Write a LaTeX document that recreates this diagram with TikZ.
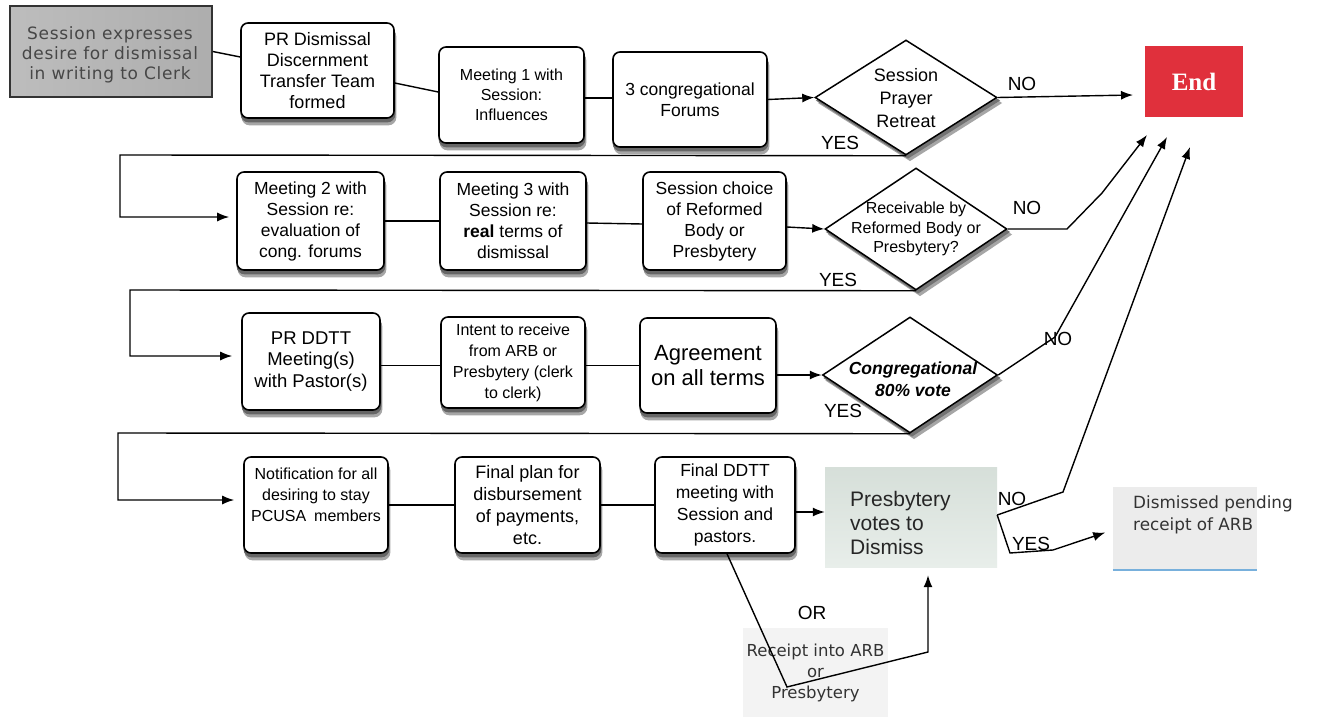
\documentclass[tikz,border=0pt]{standalone}
\usepackage{fontspec}
\setmainfont{Liberation Sans}
\newfontfamily\dvs{DejaVu Sans}
\newfontfamily\dvsw[LetterSpace=4]{DejaVu Sans}
\newfontfamily\endfont{Liberation Serif}
\usetikzlibrary{shapes.geometric,arrows.meta,calc}
\definecolor{endred}{HTML}{E0303C}
\definecolor{presfillA}{RGB}{214,223,217}
\definecolor{presfillB}{RGB}{232,238,234}
\definecolor{dismfill}{RGB}{236,236,236}
\definecolor{blueline}{RGB}{120,176,220}
\definecolor{recfill}{RGB}{243,243,243}
\newcommand\fsz[2]{\fontsize{#1}{#2}\selectfont}
\tikzset{
  box/.style={draw=black, line width=1.6pt, rounded corners=7pt, fill=white, align=center, inner sep=2pt},
  shbox/.style={draw=black!35, fill=black!35, line width=1.6pt, rounded corners=7pt, inner sep=0pt},
  shboxn/.style={draw=black!60, fill=black!60, line width=1.6pt, rounded corners=7pt, inner sep=0pt},
  dia/.style={diamond, draw=black, line width=1.5pt, fill=white, inner sep=0pt},
  shdia/.style={diamond, draw=black!35, fill=black!35, line width=1.5pt, inner sep=0pt},
  shdian/.style={diamond, draw=black!55, fill=black!55, line width=1.5pt, inner sep=0pt},
  conn/.style={line width=1.4pt, black},
  arr/.style={conn, -{Latex[length=12pt,width=9pt]}},
  lbl/.style={font=\fsz{19}{22}, inner sep=0pt},
  diatext/.style={align=center, inner sep=0pt},
}
% name, x, y, width, height, font, text
\newcommand\bx[7]{%
  \node[shbox, minimum width=#4, minimum height=#5] (#1sh) at (#2+1.5,#3+6.5) {};
  \node[shboxn, minimum width=#4, minimum height=#5] (#1shn) at (#2+0.5,#3+3.5) {};
  \node[box, minimum width=#4, minimum height=#5, font=#6] (#1) at (#2,#3) {#7};}
% name, x, y, width, height
\newcommand\dm[5]{%
  \node[shdia, minimum width=#4, minimum height=#5] (#1sh) at (#2+4,#3+5.5) {};
  \node[shdian, minimum width=#4, minimum height=#5] (#1shn) at (#2+2,#3+3) {};
  \node[dia, minimum width=#4, minimum height=#5] (#1) at (#2,#3) {};}
\begin{document}
\begin{tikzpicture}[x=1pt,y=-1pt]
\useasboundingbox (0,0) rectangle (1320,717);
\fill[white] (0,0) rectangle (1320,717);

% ---------- Row 1 ----------
\node[draw=black!80, line width=1.5pt, left color=black!26, middle color=black!5, right color=black!32,
  minimum width=202, minimum height=91, inner sep=0pt] (A) at (111,51.5) {};
\node[align=center, inner sep=0pt, font=\dvsw\fsz{17}{20}, text=black!72] (At) at (110,55)
  {Session expresses\\desire for dismissal\\in writing to Clerk};
\bx{B}{317.5}{70.5}{153}{95}{\fsz{18}{21}}{PR Dismissal\\Discernment\\Transfer Team\\formed}
\bx{C}{511.5}{95}{145}{96}{\fsz{16}{20}}{Meeting 1 with\\Session:\\Influences}
\bx{D}{690}{99.5}{154}{95}{\fsz{17.5}{21}}{3 congregational\\Forums}
\dm{d1}{906}{97.5}{182}{115}
\node[diatext, font=\fsz{18}{23}] (d1t) at (906,98) {Session\\Prayer\\Retreat};
\node[fill=endred, minimum width=98, minimum height=71, text=white, inner sep=0pt,
  font=\endfont\bfseries\fsz{25}{28}] (End) at (1194,81.5) {End};

% ---------- Row 2 ----------
\bx{E}{310.5}{221}{147}{98}{\fsz{17.5}{21}}{Meeting 2 with\\Session re:\\evaluation of\\cong. forums}
\bx{F}{513}{221}{146}{98}{\fsz{17.5}{21}}{Meeting 3 with\\Session re:\\\textbf{real} terms of\\dismissal}
\bx{G}{714.5}{221}{143}{98}{\fsz{17.5}{21}}{Session choice\\of Reformed\\Body or\\Presbytery}
\dm{d2}{916}{229}{182}{122}
\node[diatext, font=\fsz{16}{19.5}] (d2t) at (916,229) {Receivable by\\Reformed Body or\\Presbytery?};

% ---------- Row 3 ----------
\bx{H}{311}{361.5}{138}{97}{\fsz{18.5}{21.5}}{PR DDTT\\Meeting(s)\\with Pastor(s)}
\bx{I}{513}{362.5}{144}{91}{\fsz{16}{21}}{Intent to receive\\from ARB or\\Presbytery (clerk\\to clerk)}
\bx{J}{708}{365.5}{136}{95}{\fsz{22}{25}}{Agreement\\on all terms}
\dm{d3}{910}{375}{175}{116}
\node[diatext, font=\bfseries\itshape\fsz{17.5}{22}] (d3t) at (913,379) {Congregational\\80\% vote};

% ---------- Row 4 ----------
\bx{K}{316}{505}{144}{96}{\fsz{16}{21}}{Notification for all\\desiring to stay\\PCUSA\enspace members\\\mbox{}}
\bx{L}{527.5}{505}{145}{96}{\fsz{18}{22}}{Final plan for\\disbursement\\of payments,\\etc.}
\bx{M}{725}{505}{140}{96}{\fsz{17.5}{22}}{Final DDTT\\meeting with\\Session and\\pastors.}
\node[top color=presfillA, bottom color=presfillB, minimum width=172, minimum height=100, inner sep=0pt] (P) at (911,517) {};
\node[anchor=west, align=left, inner sep=0pt, font=\fsz{21}{24}, text=black!85] (Pt) at (850,523)
  {Presbytery\\votes to\\Dismiss};
\node[fill=dismfill, minimum width=144, minimum height=83, inner sep=0pt] (Q) at (1185,528.5) {};
\draw[blueline, line width=2pt] (Q.south west) -- (Q.south east);
\node[anchor=north west, align=left, inner sep=0pt, font=\dvs\fsz{16.8}{22}, text=black!80] (Qt) at (1133,496)
  {Dismissed pending\\receipt of ARB};
\node[fill=recfill, minimum width=145, minimum height=89, inner sep=0pt, align=center,
  font=\dvs\fsz{16.5}{21}, text=black!80] (R) at (815.5,672.5)
  {Receipt into ARB\\or\\Presbytery};

% ---------- free ends ----------
\coordinate (e1) at (1133,95);
\coordinate (e2) at (1147,135);
\coordinate (e3) at (1167,137);
\coordinate (e4) at (1190,147);

% ---------- connectors ----------
\draw[conn] (A.east) -- ([yshift=13.5pt]B.west);
\draw[conn] ([yshift=-12.5pt]B.east) -- ([yshift=3pt]C.west);
\draw[conn] ([yshift=-3pt]C.east) -- ([yshift=1.5pt]D.west);
\draw[arr] (D.east) -- (d1.west);
\draw[arr] (d1.east) -- (e1);
\draw[arr, shorten >=7pt] (d1.south) -- (120,155) -- (120,217) -- ([yshift=4pt]E.west);

\draw[conn] (E.east) -- (F.west);
\draw[conn] ([yshift=-2pt]F.east) -- ([yshift=-3pt]G.west);
\draw[arr] ([yshift=-6pt]G.east) -- (d2.west);
\draw[arr] (d2.east) -- (1067,229) -- (1102,193) -- (e2);
\draw[arr, shorten >=9pt] (d2.south) -- (130,290) -- (130,356) -- ([yshift=5.5pt]H.west);

\draw[conn] ([yshift=-4pt]H.east) -- ([yshift=-3pt]I.west);
\draw[conn] ([yshift=-3pt]I.east) -- (J.west);
\draw[arr] ([yshift=-9.5pt]J.east) -- (d3.west);
\draw[arr] (d3.east) -- (1055,337) -- (e3);
\draw[arr, shorten >=9pt] (d3.south) -- (118,433) -- (118,500) -- ([yshift=5pt]K.west);

\draw[conn] (K.east) -- (L.west);
\draw[conn] (L.east) -- (M.west);
\draw[arr] ([yshift=-7pt]M.east) -- ([yshift=5pt]P.west);
\draw[arr] ([yshift=2pt]P.east) -- (1063,492) -- (e4);
\draw[arr, shorten >=8pt] ([yshift=2pt]P.east) -- (1010,553) -- (1053,550) -- ([yshift=-1.5pt]Q.west);
\draw[arr, shorten >=8pt] ([xshift=2pt]M.south) -- (787,687) -- (928,652) -- ([xshift=17pt]P.south);

% ---------- labels ----------
\node[lbl] (no1) at (1022,84) {NO};
\node[lbl] (yes1) at (840,143) {YES};
\node[lbl] (no2) at (1027,208) {NO};
\node[lbl] (yes2) at (838,280) {YES};
\node[lbl] (no3) at (1058,339) {NO};
\node[lbl] (yes3) at (843,411) {YES};
\node[lbl] (no4) at (1012,499) {NO};
\node[lbl] (yes4) at (1031,544) {YES};
\node[lbl] (or) at (812,613) {OR};
\end{tikzpicture}
\end{document}
